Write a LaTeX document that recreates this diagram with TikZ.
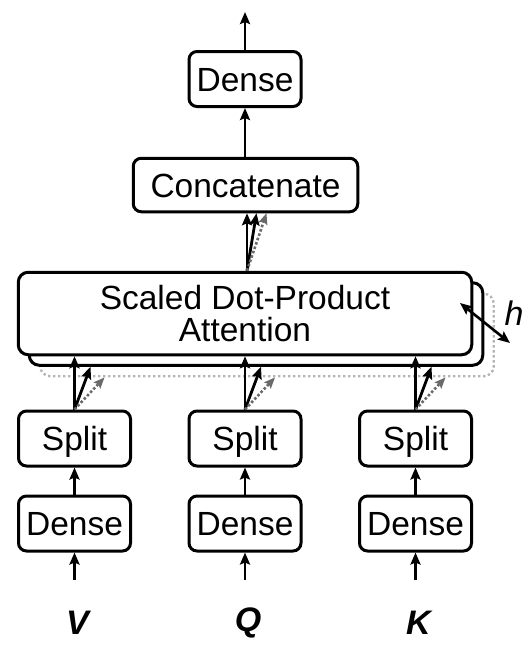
\documentclass[tikz,border=0pt]{standalone}
\usepackage{fontspec}
\setmainfont{Liberation Sans}
\usetikzlibrary{arrows.meta}
\definecolor{boxgray}{HTML}{B4B4B4}
\definecolor{arrgray}{HTML}{6A6A6A}
\begin{document}
\begin{tikzpicture}[x=1pt,y=-1pt,
  lbl/.style={font=\fontsize{33.5}{33.5}\selectfont, text height=24pt, text depth=0pt, inner sep=0pt},
  box/.style={lbl, draw, line width=3pt, rounded corners=8pt, fill=white},
  smallbox/.style={box, minimum width=112pt, minimum height=55pt},
  attbox/.style={draw, line width=3pt, rounded corners=10pt, fill=white, minimum width=453.5pt, minimum height=82.5pt, inner sep=0pt},
  arr/.style={line width=2.8pt, -{Stealth[length=12pt,width=10pt,inset=2pt]}},
  darr/.style={line width=2.6pt, draw=arrgray, dash pattern=on 2.6pt off 2pt, -{Stealth[length=11pt,width=9pt,inset=2pt,fill=arrgray]}},
  inlbl/.style={font=\fontsize{34}{34}\selectfont\bfseries\itshape, inner sep=0pt}
  ]
\useasboundingbox (0,0) rectangle (531,656);

% attention stack
\node[attbox, draw=boxgray, line width=2.4pt, dash pattern=on 2.4pt off 2.6pt] (att3) at (267,335) {};
\node[attbox] (att2) at (256,324) {};
\node[attbox, align=center, font=\fontsize{33.5}{31.5}\selectfont] (att) at (245,313.5) {Scaled Dot-Product\\Attention};

% top column
\node[box, minimum width=224.5pt, minimum height=53.5pt] (cat) at (245.5,185) {Concatenate};
\node[smallbox] (dtop) at (245,79) {Dense};
\coordinate (out) at (245,12);

% columns
\foreach \n/\x/\l in {v/74.5/V, q/245/Q, k/415.5/K}{
  \node[smallbox] (d\n) at (\x,523.5) {Dense};
  \node[smallbox] (s\n) at (\x,438.5) {Split};
  \coordinate (in\n) at (\x,580);
  \node[inlbl] (l\n) at (\x+3,623) {\l};
  \draw[arr] (in\n) -- (d\n.south);
  \draw[arr] (d\n.north) -- (s\n.south);
  \draw[arr] (s\n.north) -- (s\n.north |- att.south);
  \draw[arr] (s\n.north) -- ([xshift=16pt]s\n.north |- att2.south);
  \draw[darr] (s\n.north) -- ([xshift=30pt]s\n.north |- att3.south);
}

% attention to concat
\draw[arr] ([xshift=1.5pt]att.north -| cat.south) -- ([xshift=1.5pt]cat.south);
\draw[arr] ([xshift=1.5pt]att.north -| cat.south) -- ([xshift=11pt]cat.south);
\draw[darr] ([xshift=1.5pt]att.north -| cat.south) -- ([xshift=21pt]cat.south);

\draw[arr] (cat.north -| dtop.south) -- (dtop.south);
\draw[arr] (dtop.north) -- (out);

% h
\coordinate (h1) at (460,303);
\coordinate (h2) at (510,343);
\draw[line width=2.6pt, {Stealth[length=12pt,width=10pt,inset=2pt]}-{Stealth[length=12pt,width=10pt,inset=2pt]}] (h1) -- (h2);
\node[font=\fontsize{34}{34}\selectfont\itshape, inner sep=0pt] (hl) at (514,313) {h};
\end{tikzpicture}
\end{document}
